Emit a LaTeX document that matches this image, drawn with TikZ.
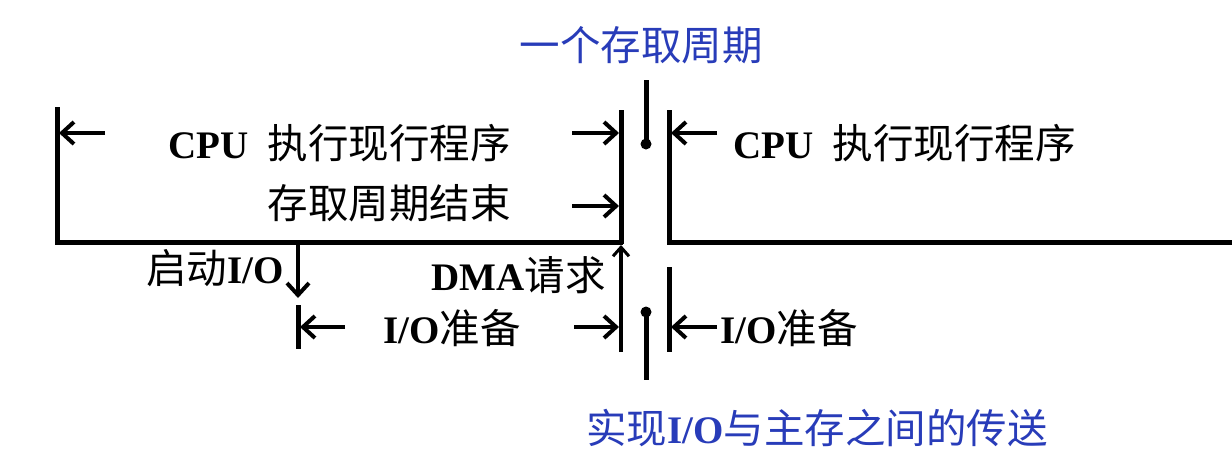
\documentclass[tikz,border=0pt]{standalone}
\usepackage{fontspec}
\setmainfont{Liberation Serif}
\newfontfamily\cjk{Noto Sans CJK SC}
\usetikzlibrary{arrows.meta}
\definecolor{tblue}{RGB}{40,60,185}
\newcommand\zh[1]{{\cjk\mdseries\fontsize{40.5}{46}\selectfont #1}}
\tikzset{
  frame/.style={line width=5pt},
  arr/.style={line width=4.5pt,-{Straight Barb[length=12pt,width=22pt,line width=4pt]}},
  darr/.style={line width=4pt,-{Straight Barb[length=9pt,width=16pt,line width=3pt]}},
  lbl/.style={inner sep=0pt,font=\fontsize{39}{46}\selectfont\bfseries},
  blbl/.style={lbl,text=tblue},
}
\begin{document}
\begin{tikzpicture}[x=1pt,y=-1pt]
\useasboundingbox[fill=white] (0,0) rectangle (1232,456);
% coordinates
\coordinate (LT) at (57,107);
\coordinate (LC) at (57,242);
\coordinate (LE) at (623,242);
\coordinate (CLT) at (621,110);
\coordinate (CLB) at (621,244);
\coordinate (RT) at (669,110);
\coordinate (RC) at (669,242);
\coordinate (RE) at (1232,242);
\coordinate (A1s) at (105,133);
\coordinate (A1e) at (59,133);
\coordinate (A2s) at (572,133);
\coordinate (A2e) at (619,133);
\coordinate (A3s) at (572,206);
\coordinate (A3e) at (619,206);
\coordinate (D1s) at (298,242);
\coordinate (D1e) at (298,298);
\coordinate (BT) at (298,305);
\coordinate (BB) at (298,349);
\coordinate (A4s) at (345,327);
\coordinate (A4e) at (300,327);
\coordinate (A5s) at (574,327);
\coordinate (A5e) at (619,327);
\coordinate (UPs) at (621,352);
\coordinate (UPe) at (621,245);
\coordinate (RBT) at (669,267);
\coordinate (RBB) at (669,352);
\coordinate (A6s) at (717,133);
\coordinate (A6e) at (671,133);
\coordinate (A7s) at (717,327);
\coordinate (A7e) at (671,327);
\coordinate (DT1) at (646,80);
\coordinate (DT2) at (646,144);
\coordinate (DB1) at (646,312);
\coordinate (DB2) at (646,380);
% frame lines
\draw[frame] (LT) -- (LC) -- (LE);
\draw[frame] (CLT) -- (CLB);
\draw[frame] (RT) -- (RC) -- (RE);
\draw[frame] (BT) -- (BB);
\draw[frame] (RBT) -- (RBB);
\draw[frame] (DT1) -- (DT2);
\fill (DT2) circle (5.5pt);
\draw[frame] (DB1) -- (DB2);
\fill (DB1) circle (5.5pt);
% arrows
\draw[arr] (A1s) -- (A1e);
\draw[arr] (A2s) -- (A2e);
\draw[arr] (A3s) -- (A3e);
\draw[arr] (D1s) -- (D1e);
\draw[arr] (A4s) -- (A4e);
\draw[arr] (A5s) -- (A5e);
\draw[darr] (UPs) -- (UPe);
\draw[arr] (A6s) -- (A6e);
\draw[arr] (A7s) -- (A7e);
% labels
\node[blbl,anchor=center] (top) at (641,45) {\zh{一个存取周期}};
\node[blbl,anchor=center] (bot) at (817,428) {\zh{实现}I/O\zh{与主存之间的传送}};
\node[lbl,anchor=base west] (cpu1) at (168,158) {CPU};
\node[lbl,anchor=base east] (exec1) at (511,158) {\zh{执行现行程序}};
\node[lbl,anchor=base east] (end1) at (511,218) {\zh{存取周期结束}};
\node[lbl,anchor=base east] (start) at (284,283) {\zh{启动}I/O};
\node[lbl,anchor=base east] (dma) at (606,290) {DMA\zh{请求}};
\node[lbl,anchor=base east] (prep1) at (521,343) {I/O\zh{准备}};
\node[lbl,anchor=base west] (cpu2) at (733,158) {CPU};
\node[lbl,anchor=base east] (exec2) at (1076,158) {\zh{执行现行程序}};
\node[lbl,anchor=base west] (prep2) at (720,343) {I/O\zh{准备}};
\end{tikzpicture}
\end{document}
